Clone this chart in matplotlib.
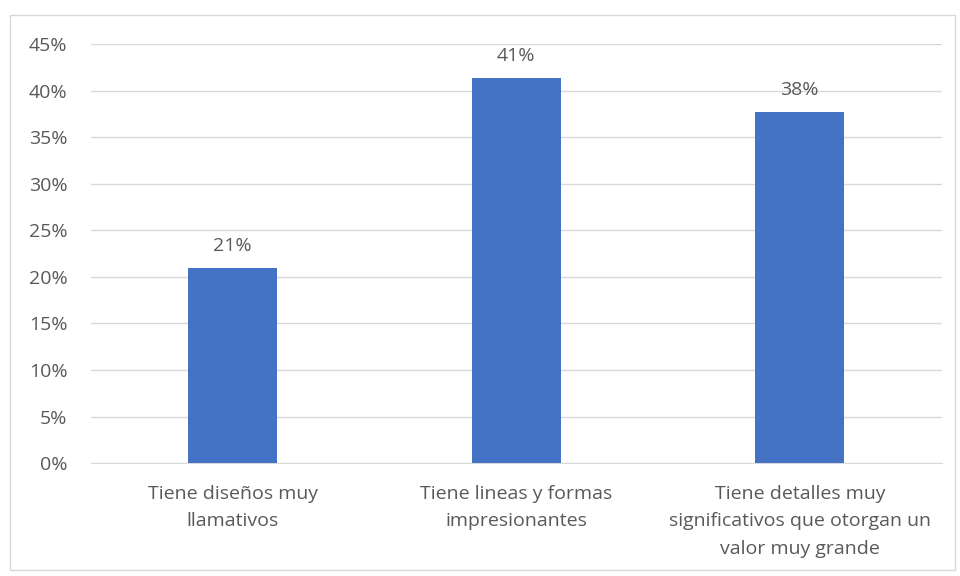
import matplotlib.pyplot as plt
from matplotlib.patches import Rectangle

categorias = ['Tiene diseños muy\nllamativos',
              'Tiene lineas y formas\nimpresionantes',
              'Tiene detalles muy\nsignificativos que otorgan un\nvalor muy grande']
valores = [0.21, 0.414, 0.377]
etiquetas = ['21%', '41%', '38%']
ticks = [0, 0.05, 0.10, 0.15, 0.20, 0.25, 0.30, 0.35, 0.40, 0.45]

plt.rcParams['font.family'] = ['Open Sans', 'DejaVu Sans']
gris = '#595959'
fs = 14

fig = plt.figure(figsize=(9.6, 5.76), dpi=100)
ax = fig.add_axes([0.0948, 0.196, 0.886, 0.7276])

x = list(range(len(categorias)))
barras = ax.bar(x, valores, width=0.313, color='#4472C4', zorder=3)
for b, txt in zip(barras, etiquetas):
    ax.annotate(txt, (b.get_x() + b.get_width() / 2, b.get_height()),
                xytext=(0, 9), textcoords='offset points',
                ha='center', va='bottom', fontsize=fs, color=gris)

ax.set_xlim(-0.5, 2.5)
ax.set_ylim(0, 0.45)
ax.set_yticks(ticks)
ax.set_yticklabels([f'{int(round(t * 100))}%' for t in ticks])
ax.set_xticks(x)
ax.set_xticklabels(categorias, fontsize=fs, color=gris, linespacing=1.65)
ax.tick_params(axis='y', labelsize=fs, labelcolor=gris, length=0, pad=17)
ax.tick_params(axis='x', length=0, pad=16)
ax.grid(axis='y', color='#D9D9D9', linewidth=1, zorder=0)
for s in ['top', 'right', 'left']:
    ax.spines[s].set_visible(False)
ax.spines['bottom'].set_color('#D9D9D9')

fig.patches.append(Rectangle((10 / 960, 6 / 576), 945 / 960, 555 / 576,
                             transform=fig.transFigure, fill=False,
                             edgecolor='#D9D9D9', linewidth=1))

fig.savefig('out.png', dpi=100)
